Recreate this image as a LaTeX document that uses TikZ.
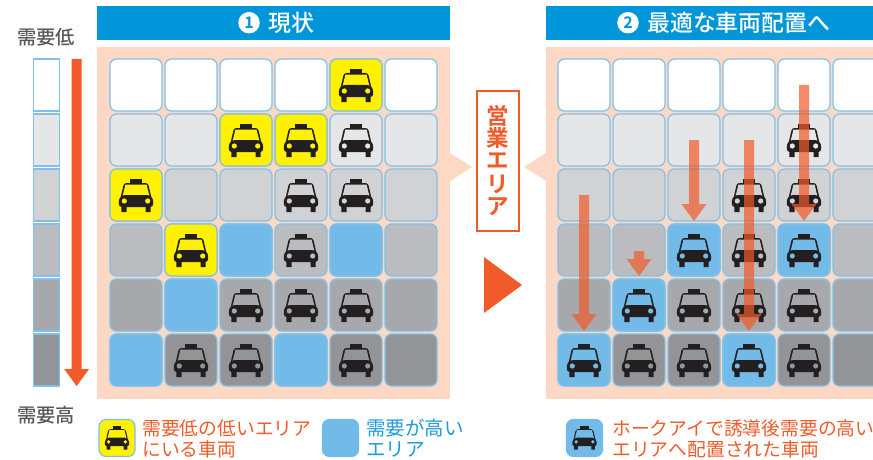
\documentclass[tikz,border=0pt]{standalone}
\usepackage{fontspec}
\setmainfont{Noto Sans CJK JP}
\newfontfamily\boldjp{Noto Sans CJK JP Bold}
\newfontfamily\medjp{Noto Sans CJK JP Medium}
\definecolor{peach}{HTML}{FDD8C4}
\definecolor{hdr}{HTML}{0096D9}
\definecolor{edge}{HTML}{7FC1EA}
\definecolor{skyb}{HTML}{72BBE8}
\definecolor{yel}{HTML}{FFF100}
\definecolor{org}{HTML}{F15A29}
\definecolor{lbl}{HTML}{58595B}
\definecolor{lblue}{HTML}{1C9ADB}
\definecolor{rowa}{HTML}{FFFFFF}
\definecolor{rowb}{HTML}{E5E6E8}
\definecolor{rowc}{HTML}{D1D2D4}
\definecolor{rowd}{HTML}{BBBCBF}
\definecolor{rowe}{HTML}{A7A8AB}
\definecolor{rowf}{HTML}{929497}
\definecolor{taxik}{HTML}{231F20}
\tikzset{
  cellbox/.style={draw=edge,line width=1.2pt,rounded corners=6.5pt,minimum width=52pt,minimum height=52pt,inner sep=0pt,outer sep=0pt},
  stripbox/.style={draw=edge,line width=1.2pt,minimum width=26pt,minimum height=52pt,inner sep=0pt,outer sep=0pt},
  legendbox/.style={draw=edge,line width=1.2pt,rounded corners=7pt,minimum width=36pt,minimum height=37pt,inner sep=0pt,outer sep=0pt},
  headbar/.style={fill=hdr,inner sep=0pt,outer sep=0pt,minimum height=34pt},
  sidelabel/.style={text=lbl,font=\fontsize{19.3}{20}\medjp,inner sep=0pt},
  legendtxt/.style={font=\fontsize{18.8}{21}\selectfont,inner sep=0pt,anchor=west,align=left},
  headtxt/.style={text=white,font=\fontsize{22.9}{24}\medjp,inner sep=0pt,anchor=west},
  numdisc/.style={circle,fill=white,minimum size=21.5pt,inner sep=0pt,text=hdr,font=\fontsize{16}{16}\boldjp},
  vchar/.style={text=org,font=\fontsize{22.5}{23}\boldjp,inner sep=0pt},
}
% taxi: #1 centre of the cell, #2 tint colour, #3 scale
\newcommand{\taxi}[3]{%
\begin{scope}[shift={#1},scale=#3]
  \fill[taxik] (-6,-15.7) rectangle (6,-11);
  \fill[taxik,rounded corners=2.5*#3] (-12,-12) -- (12,-12) -- (15.5,3) -- (-15.5,3) -- cycle;
  \fill[#2] (-10.6,-10.4) -- (10.6,-10.4) -- (13.4,1) -- (-13.4,1) -- cycle;
  \fill[taxik,rounded corners=3*#3] (-17.2,12) -- (-17.2,3.5) -- (-13.5,0) -- (13.5,0) -- (17.2,3.5) -- (17.2,12) -- cycle;
  \fill[taxik] (-14.7,11) rectangle (-9.5,17) (9.5,11) rectangle (14.7,17);
  \fill[#2] (-11.7,6) circle (2.6) (11.7,6) circle (2.6);
\end{scope}}
% grid cell: name, panel x, column, row, fill
\newcommand{\gcell}[5]{\node[cellbox,fill=#5] (#1) at ({#2+26+55*(#3-1)},{85+55*(#4-1)}) {};}
\newcommand{\arw}[4]{% name, x, y top, tip y
  \coordinate (#1a) at (#2,#3); \coordinate (#1b) at (#2,#4);
  \fill[org,opacity=.7] ($(#1a)+(-5,0)$) -- ($(#1a)+(5,0)$) -- ($(#1b)+(5,-17)$) -- ($(#1b)+(12.5,-17)$) -- (#1b) -- ($(#1b)+(-12.5,-17)$) -- ($(#1b)+(-5,-17)$) -- cycle;}
\usetikzlibrary{calc}
\begin{document}
\begin{tikzpicture}[x=1pt,y=-1pt]
\useasboundingbox (0,0) rectangle (873,460);
% side labels and scale
\node[sidelabel] (lo) at (46,37) {需要低};
\node[sidelabel] (hi) at (46,415) {需要高};
\foreach \i/\c in {1/rowa,2/rowb,3/rowc,4/rowd,5/rowe,6/rowf}
  \node[stripbox,fill=\c] (s\i) at (46.5,{85+55*(\i-1)}) {};
\coordinate (sa) at (76.6,59); \coordinate (sb) at (76.6,386);
\fill[org] ($(sa)+(-5,0)$) -- ($(sa)+(5,0)$) -- ($(sb)+(5,-17)$) -- ($(sb)+(12.5,-17)$) -- (sb) -- ($(sb)+(-12.5,-17)$) -- ($(sb)+(-5,-17)$) -- cycle;
% panel 1
\node[headbar,minimum width=353pt] (h1) at (273.5,23) {};
\fill[peach] (97,47) rectangle (450,399);
\fill[peach] (450,153) -- (472,167) -- (450,181) -- cycle;
\foreach \i/\c in {1/rowa,2/rowb,3/rowc,4/rowd,5/rowe,6/rowf}
  \foreach \j in {1,...,6} { \gcell{a\j\i}{110}{\j}{\i}{\c} }
\node[numdisc] (n1) at (249,22.7) {1};
\node[headtxt] (t1) at (268,23) {現状};
% panel 2
\node[headbar,minimum width=327pt] (h2) at (709.5,23) {};
\fill[peach] (546,47) rectangle (873,399);
\fill[peach] (546,153) -- (524,167) -- (546,181) -- cycle;
\foreach \i/\c in {1/rowa,2/rowb,3/rowc,4/rowd,5/rowe,6/rowf}
  \foreach \j in {1,...,6} { \gcell{b\j\i}{558}{\j}{\i}{\c} }
\node[numdisc] (n2) at (628,22.7) {2};
\node[headtxt] (t2) at (647,23) {最適な車両配置へ};
% panel 1 special cells
\foreach \j/\i in {5/1,3/2,4/2,1/3,2/4} { \gcell{ya\j\i}{110}{\j}{\i}{yel} }
\foreach \j/\i in {3/4,5/4,2/5,1/6,4/6} { \gcell{ba\j\i}{110}{\j}{\i}{skyb} }
\foreach \j/\i in {5/1,3/2,4/2,1/3,2/4} { \taxi{({110+26+55*(\j-1)},{85+55*(\i-1)})}{yel}{1} }
\foreach \j/\i/\c in {5/2/rowb,4/3/rowc,5/3/rowc,4/4/rowd,3/5/rowe,4/5/rowe,5/5/rowe,2/6/rowf,3/6/rowf,5/6/rowf}
  { \taxi{({110+26+55*(\j-1)},{85+55*(\i-1)})}{\c}{1} }
% panel 2 special cells
\foreach \j/\i in {3/4,5/4,2/5,1/6,4/6} { \gcell{bb\j\i}{558}{\j}{\i}{skyb} }
\foreach \j/\i/\c in {5/2/rowb,4/3/rowc,5/3/rowc,4/4/rowd,3/5/rowe,4/5/rowe,5/5/rowe,2/6/rowf,3/6/rowf,5/6/rowf,3/4/skyb,5/4/skyb,2/5/skyb,1/6/skyb,4/6/skyb}
  { \taxi{({558+26+55*(\j-1)},{85+55*(\i-1)})}{\c}{1} }
% arrows
\arw{m1}{584}{195}{331}
\arw{m2}{639}{251}{276}
\arw{m3}{694}{140}{221}
\arw{m4}{749}{140}{331}
\arw{m5}{804}{85}{221}
% centre
\node[draw=org,line width=2pt,fill=white,minimum width=42pt,minimum height=140pt,inner sep=0pt] (area) at (497.5,161) {};
\node[vchar] (v1) at (498,115.5) {営};
\node[vchar] (v2) at (498,138) {業};
\node[vchar] (v3) at (498,160.5) {エ};
\node[vchar] (v4) at (498,184) {リ};
\node[vchar] (v5) at (498,207) {ア};
\fill[org] (484,257) -- (522,285) -- (484,313) -- cycle;
% legend
\node[legendbox,fill=yel] (k1) at (117,438) {};
\taxi{(117,437.6)}{yel}{.71}
\node[legendtxt,text=org] (k1t) at (142,438.5) {需要低の低いエリア\\にいる車両};
\node[legendbox,fill=skyb,draw=skyb] (k2) at (340.5,438) {};
\node[legendtxt,text=lblue,font=\fontsize{19.5}{21}\selectfont] (k2t) at (366,438.5) {需要が高い\\エリア};
\node[legendbox,fill=skyb,draw=skyb] (k3) at (584.5,438) {};
\taxi{(584.5,437.6)}{skyb}{.71}
\node[legendtxt,text=org] (k3t) at (612,438.5) {ホークアイで誘導後需要の高い\\エリアへ配置された車両};
\end{tikzpicture}
\end{document}
